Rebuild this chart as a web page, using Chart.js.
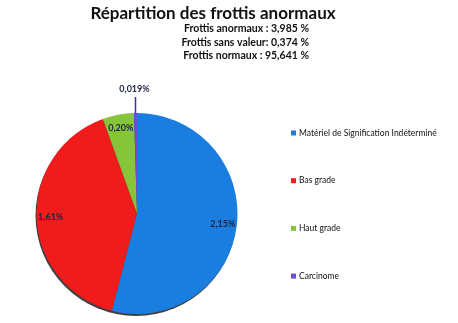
<!DOCTYPE html>
<html lang="fr">
<head>
<meta charset="utf-8">
<title>Répartition des frottis anormaux</title>
<script src="https://cdn.jsdelivr.net/npm/chart.js@4.4.1/dist/chart.umd.min.js"></script>
<style>
  html, body { margin: 0; padding: 0; background: #fff; }
  #wrap { width: 458px; height: 323px; }
</style>
</head>
<body>
<div id="wrap"><canvas id="pie" width="458" height="323"></canvas></div>
<script>
// categories and values (% of all smears)
const categories = ['Matériel de Signification Indéterminé', 'Bas grade', 'Haut grade', 'Carcinome'];
const values = [2.15, 1.61, 0.20, 0.019];
const valueLabels = ['2,15%', '1,61%', '0,20%', '0,019%'];
const sliceColors = ['#1a7ee0', '#f01c1c', '#86c53a', '#6b4fd0'];

const titleText = 'Répartition des frottis anormaux';
const summaryLines = ['Frottis anormaux : 3,985 %', 'Frottis sans valeur: 0,374 %', 'Frottis normaux : 95,641 %'];

const FONT = 'Lato, "Open Sans", sans-serif';

// soft shadow under the pie
const shadowPlugin = {
  id: 'pieShadow',
  beforeDatasetsDraw(chart) {
    const arc = chart.getDatasetMeta(0).data[0];
    if (!arc) return;
    const { x, y, outerRadius } = arc.getProps(['x', 'y', 'outerRadius'], true);
    const ctx = chart.ctx;
    ctx.save();
    ctx.fillStyle = 'rgba(0,0,0,0.75)';
    ctx.beginPath();
    ctx.arc(x - 1, y + 2, outerRadius, 0, Math.PI * 2);
    ctx.fill();
    ctx.restore();
  }
};

// titles, slice labels, leader line and legend
const textPlugin = {
  id: 'pieText',
  afterDraw(chart) {
    const ctx = chart.ctx;
    const arcs = chart.getDatasetMeta(0).data;
    ctx.save();

    ctx.fillStyle = '#111';
    ctx.font = 'bold 17px ' + FONT;
    ctx.textAlign = 'center';
    ctx.textBaseline = 'alphabetic';
    ctx.fillText(titleText, 213, 19);

    ctx.font = 'bold 10.5px ' + FONT;
    ctx.textAlign = 'right';
    summaryLines.forEach((s, i) => ctx.fillText(s, 309, 32 + i * 13.5));

    // value labels inside the slices
    ctx.font = 'bold 9px ' + FONT;
    ctx.fillStyle = '#1c2340';
    ctx.textAlign = 'center';
    ctx.textBaseline = 'middle';
    arcs.forEach((arc, i) => {
      const p = arc.getProps(['x', 'y', 'startAngle', 'endAngle', 'outerRadius'], true);
      const mid = (p.startAngle + p.endAngle) / 2;
      if (i === 3) {
        const tx = p.x + Math.cos(mid) * p.outerRadius;
        const ty = p.y + Math.sin(mid) * p.outerRadius;
        ctx.strokeStyle = '#3b2f9a';
        ctx.lineWidth = 1.5;
        ctx.beginPath();
        ctx.moveTo(tx, ty);
        ctx.lineTo(tx, 97);
        ctx.stroke();
        ctx.fillText(valueLabels[i], tx - 1, 89);
      } else {
        const r = p.outerRadius * 0.86;
        ctx.fillText(valueLabels[i], p.x + Math.cos(mid) * r, p.y + Math.sin(mid) * r);
      }
    });

    // legend
    ctx.font = '8.5px ' + FONT;
    ctx.textAlign = 'left';
    categories.forEach((c, i) => {
      const y = 133 + i * 47.7;
      ctx.fillStyle = sliceColors[i];
      ctx.fillRect(291, y - 2.5, 5, 5);
      ctx.fillStyle = '#111';
      ctx.fillText(c, 299, y);
    });
    ctx.restore();
  }
};

new Chart(document.getElementById('pie'), {
  type: 'pie',
  data: {
    labels: categories,
    datasets: [{
      data: values,
      backgroundColor: sliceColors,
      borderWidth: 0
    }]
  },
  options: {
    responsive: false,
    animation: false,
    layout: { padding: { left: 36, right: 220, top: 113, bottom: 9 } },
    plugins: {
      legend: { display: false },
      title: { display: false },
      tooltip: { enabled: false }
    }
  },
  plugins: [shadowPlugin, textPlugin]
});
</script>
</body>
</html>
